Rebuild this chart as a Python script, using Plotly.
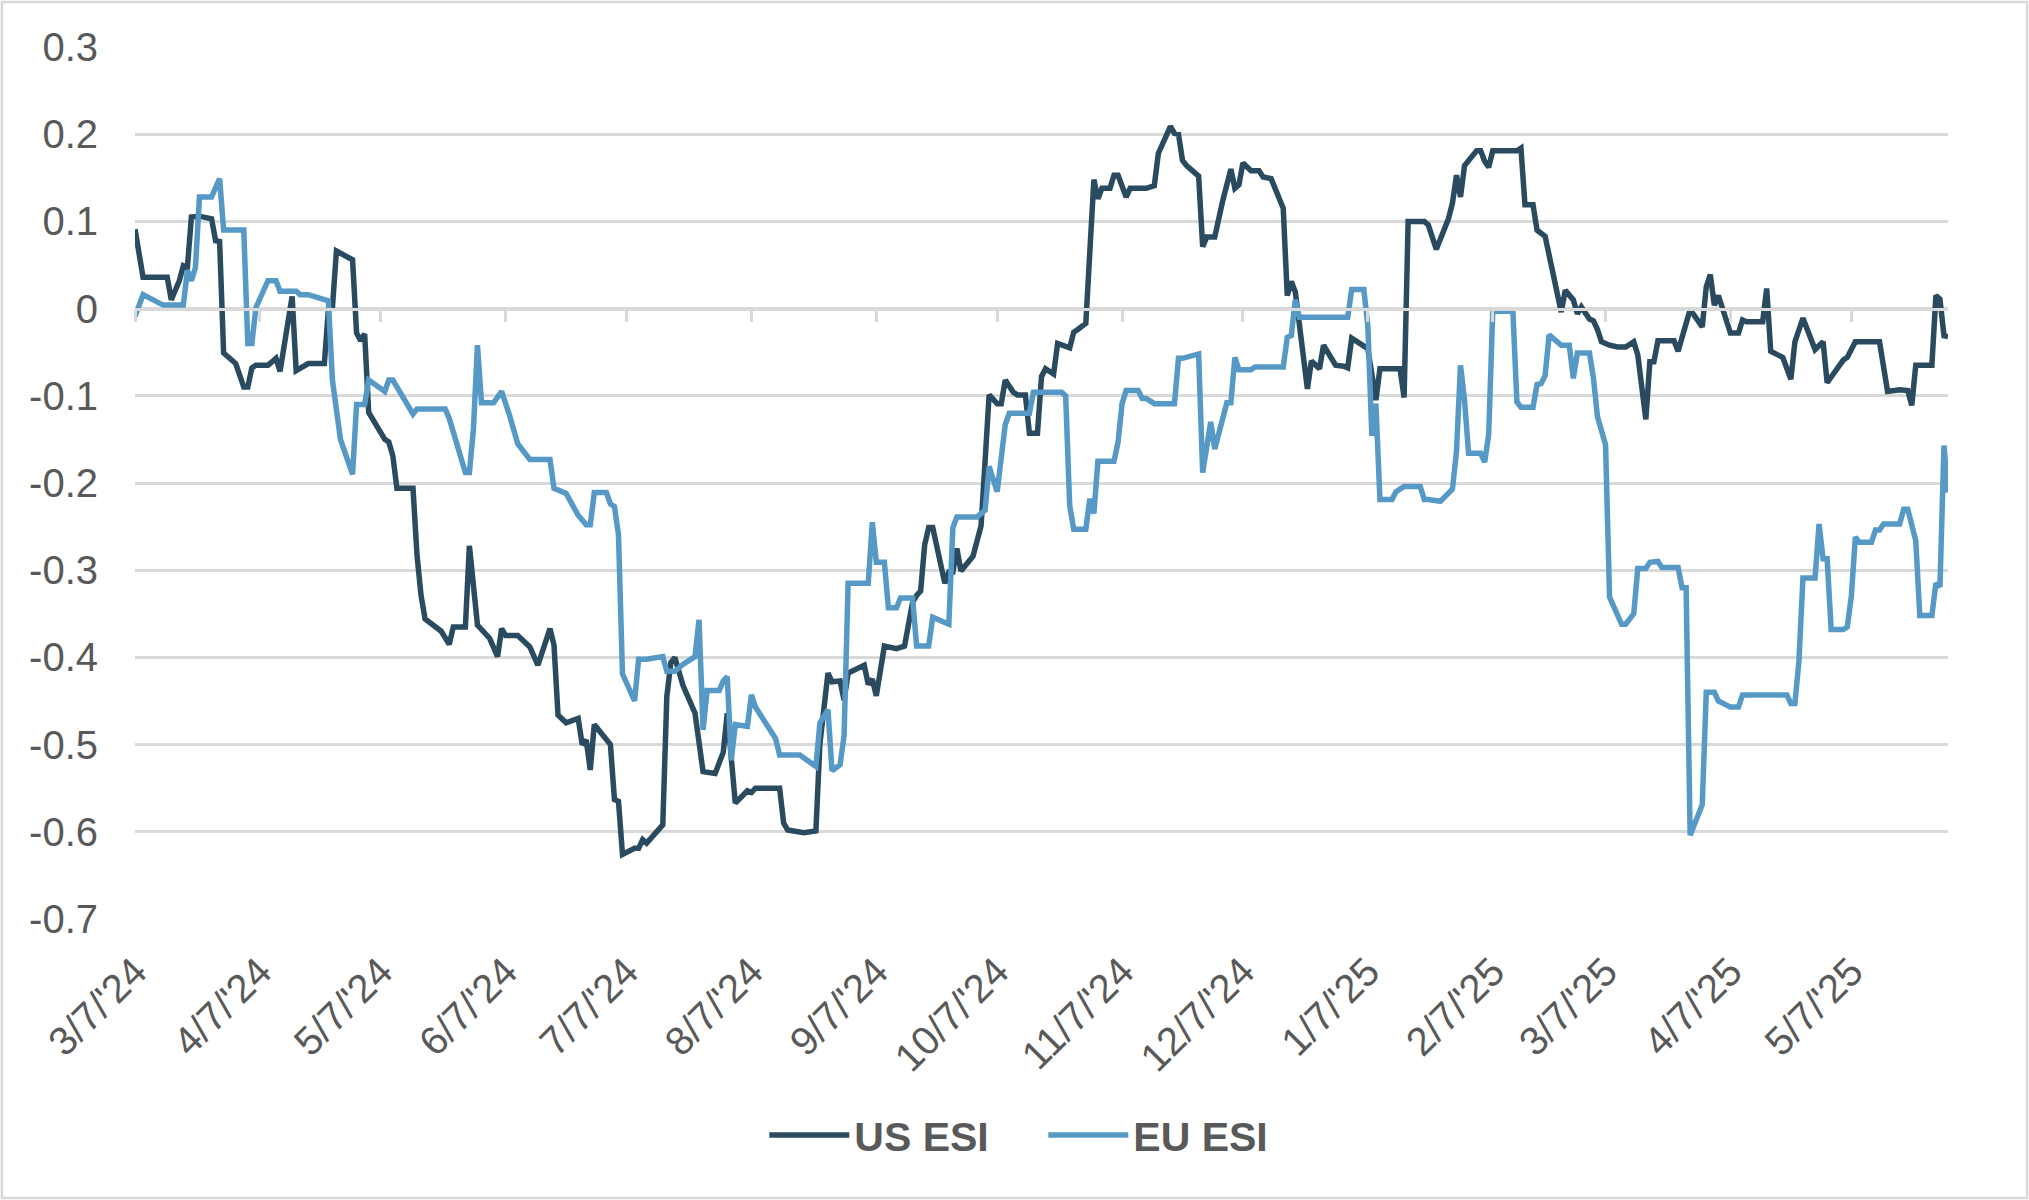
import pandas as pd
import plotly.graph_objects as go

# --- DATA ---
# days counted from 3/7/'24, values are the index level
START = pd.Timestamp("2024-03-07")

us_day = [0, 2, 8, 9, 11, 12, 13, 14, 16, 19,
          20, 21, 22, 25, 27, 28, 29, 30, 33, 35,
          36, 39, 40, 43, 47, 48, 49, 50, 54, 55,
          56, 57, 58, 62, 63, 64, 65, 69, 70, 71,
          72, 76, 78, 79, 82, 83, 85, 88, 90, 91,
          92, 95, 98, 100, 103, 104, 105, 107, 110, 111,
          112, 113, 114, 118, 119, 120, 121, 124, 125, 126,
          127, 131, 132, 133, 134, 136, 139, 141, 144, 146,
          147, 149, 152, 153, 154, 160, 161, 162, 166, 169,
          170, 171, 172, 173, 175, 176, 177, 181, 182, 183,
          184, 186, 189, 191, 193, 194, 195, 196, 197, 198,
          201, 202, 203, 204, 205, 208, 210, 211, 212, 214,
          215, 216, 218, 219, 221, 222, 224, 225, 226, 228,
          229, 232, 233, 234, 236, 238, 239, 240, 242, 243,
          244, 246, 247, 251, 253, 254, 256, 257, 258, 259,
          260, 261, 264, 265, 266, 268, 270, 272, 273, 274,
          275, 277, 279, 280, 282, 284, 285, 286, 287, 288,
          291, 292, 294, 295, 298, 300, 301, 302, 306, 308,
          309, 314, 315, 316, 320, 321, 323, 326, 327, 328,
          329, 330, 333, 334, 335, 336, 337, 343, 344, 345,
          347, 348, 350, 354, 355, 357, 358, 359, 361, 362,
          363, 364, 366, 368, 370, 372, 373, 375, 376, 377,
          378, 382, 383, 386, 389, 390, 391, 392, 393, 396,
          398, 399, 400, 404, 405, 406, 409, 411, 412, 414,
          417, 419, 420, 424, 425, 427, 433, 435, 438, 440,
          441, 442, 446, 447, 448, 449, 450]
us_esi = [0.091, 0.036, 0.036, 0.010, 0.032, 0.049, 0.047, 0.105, 0.106, 0.103,
          0.078, 0.077, -0.051, -0.063, -0.090, -0.090, -0.068, -0.065, -0.065, -0.057,
          -0.072, 0.014, -0.071, -0.063, -0.063, -0.001, 0.001, 0.066, 0.056, -0.028,
          -0.037, -0.029, -0.119, -0.150, -0.153, -0.169, -0.206, -0.206, -0.283, -0.329,
          -0.356, -0.370, -0.385, -0.365, -0.365, -0.272, -0.363, -0.378, -0.399, -0.367,
          -0.375, -0.375, -0.388, -0.409, -0.367, -0.386, -0.466, -0.475, -0.470, -0.500,
          -0.495, -0.529, -0.477, -0.500, -0.563, -0.565, -0.626, -0.619, -0.619, -0.609,
          -0.613, -0.592, -0.445, -0.406, -0.400, -0.432, -0.464, -0.531, -0.533, -0.509,
          -0.464, -0.567, -0.553, -0.555, -0.550, -0.550, -0.590, -0.598, -0.601, -0.599,
          -0.499, -0.464, -0.418, -0.428, -0.427, -0.449, -0.418, -0.409, -0.431, -0.425,
          -0.444, -0.387, -0.390, -0.387, -0.337, -0.329, -0.324, -0.271, -0.251, -0.251,
          -0.315, -0.302, -0.302, -0.275, -0.301, -0.284, -0.249, -0.175, -0.099, -0.109,
          -0.109, -0.082, -0.096, -0.099, -0.099, -0.143, -0.143, -0.078, -0.069, -0.075,
          -0.040, -0.045, -0.027, -0.024, -0.017, 0.148, 0.126, 0.138, 0.138, 0.153,
          0.153, 0.128, 0.138, 0.138, 0.141, 0.178, 0.197, 0.209, 0.201, 0.200,
          0.170, 0.164, 0.152, 0.071, 0.082, 0.082, 0.124, 0.160, 0.138, 0.142,
          0.167, 0.158, 0.158, 0.151, 0.149, 0.124, 0.115, 0.015, 0.031, 0.019,
          -0.092, -0.060, -0.069, -0.042, -0.065, -0.066, -0.068, -0.034, -0.046, -0.105,
          -0.069, -0.069, -0.102, 0.100, 0.100, 0.096, 0.068, 0.103, 0.121, 0.153,
          0.128, 0.164, 0.181, 0.181, 0.169, 0.162, 0.181, 0.181, 0.184, 0.119,
          0.119, 0.090, 0.083, -0.004, 0.021, 0.010, -0.006, 0.002, -0.012, -0.014,
          -0.024, -0.038, -0.042, -0.044, -0.044, -0.038, -0.053, -0.127, -0.061, -0.061,
          -0.037, -0.037, -0.049, -0.001, -0.021, 0.025, 0.039, 0.004, 0.015, -0.028,
          -0.028, -0.013, -0.015, -0.015, 0.023, -0.049, -0.056, -0.081, -0.038, -0.011,
          -0.047, -0.038, -0.085, -0.059, -0.056, -0.038, -0.038, -0.095, -0.093, -0.094,
          -0.111, -0.065, -0.065, 0.015, 0.011, -0.031, -0.032]

eu_day = [0, 2, 7, 12, 13, 14, 15, 16, 19, 21,
          22, 27, 28, 29, 30, 33, 35, 36, 40, 41,
          43, 47, 48, 49, 51, 54, 55, 57, 58, 62,
          63, 64, 66, 69, 70, 77, 78, 82, 83, 84,
          85, 86, 89, 91, 93, 95, 98, 103, 104, 106,
          107, 110, 111, 112, 113, 114, 117, 118, 119, 120,
          121, 124, 125, 127, 131, 132, 134, 136, 139, 140,
          141, 142, 145, 146, 147, 148, 149, 152, 153, 154,
          159, 160, 165, 169, 170, 172, 173, 175, 176, 177,
          182, 183, 184, 186, 187, 189, 190, 193, 194, 197,
          198, 202, 203, 204, 209, 211, 212, 214, 216, 217,
          222, 223, 230, 231, 232, 233, 236, 237, 238, 239,
          243, 244, 245, 246, 249, 250, 251, 253, 258, 259,
          260, 264, 265, 267, 268, 271, 272, 273, 274, 277,
          278, 285, 286, 287, 288, 289, 301, 302, 305, 306,
          307, 308, 309, 312, 313, 315, 319, 320, 321, 323,
          324, 327, 328, 329, 330, 331, 334, 335, 336, 337,
          342, 343, 344, 347, 348, 349, 350, 351, 354, 356,
          357, 358, 361, 362, 363, 365, 366, 369, 370, 372,
          373, 375, 376, 378, 379, 383, 384, 385, 386, 389,
          390, 392, 393, 396, 398, 399, 410, 411, 412, 413,
          414, 417, 418, 419, 420, 421, 424, 425, 426, 427,
          428, 431, 432, 433, 434, 438, 439, 440, 442, 443,
          446, 447, 448, 449, 450]
eu_esi = [-0.009, 0.016, 0.004, 0.004, 0.044, 0.032, 0.047, 0.128, 0.128, 0.149,
          0.090, 0.090, -0.040, -0.040, 0.001, 0.032, 0.032, 0.020, 0.020, 0.016,
          0.016, 0.010, 0.009, -0.082, -0.150, -0.190, -0.110, -0.110, -0.082, -0.095,
          -0.082, -0.082, -0.098, -0.121, -0.115, -0.115, -0.126, -0.188, -0.188, -0.138,
          -0.042, -0.108, -0.108, -0.095, -0.123, -0.155, -0.173, -0.173, -0.206, -0.211,
          -0.212, -0.237, -0.242, -0.248, -0.248, -0.211, -0.211, -0.224, -0.227, -0.259,
          -0.419, -0.450, -0.402, -0.402, -0.399, -0.416, -0.416, -0.408, -0.399, -0.357,
          -0.483, -0.438, -0.438, -0.427, -0.422, -0.518, -0.477, -0.479, -0.443, -0.457,
          -0.493, -0.512, -0.512, -0.525, -0.475, -0.460, -0.530, -0.523, -0.490, -0.315,
          -0.315, -0.245, -0.291, -0.291, -0.343, -0.343, -0.332, -0.332, -0.387, -0.387,
          -0.354, -0.362, -0.251, -0.239, -0.239, -0.231, -0.181, -0.210, -0.133, -0.120,
          -0.120, -0.096, -0.096, -0.100, -0.226, -0.253, -0.253, -0.218, -0.235, -0.175,
          -0.175, -0.153, -0.109, -0.094, -0.094, -0.103, -0.103, -0.109, -0.109, -0.057,
          -0.057, -0.052, -0.188, -0.130, -0.161, -0.108, -0.108, -0.056, -0.070, -0.070,
          -0.067, -0.067, -0.033, -0.031, 0.010, -0.010, -0.010, 0.022, 0.022, -0.020,
          -0.146, -0.109, -0.219, -0.219, -0.210, -0.204, -0.204, -0.219, -0.219, -0.221,
          -0.221, -0.207, -0.164, -0.065, -0.105, -0.166, -0.166, -0.176, -0.144, -0.003,
          -0.003, -0.107, -0.113, -0.113, -0.087, -0.086, -0.077, -0.030, -0.042, -0.042,
          -0.080, -0.051, -0.051, -0.080, -0.124, -0.156, -0.331, -0.362, -0.362, -0.350,
          -0.298, -0.298, -0.291, -0.290, -0.297, -0.297, -0.320, -0.320, -0.604, -0.569,
          -0.440, -0.440, -0.450, -0.457, -0.457, -0.443, -0.443, -0.453, -0.453, -0.404,
          -0.309, -0.309, -0.247, -0.287, -0.287, -0.368, -0.368, -0.365, -0.330, -0.262,
          -0.268, -0.268, -0.254, -0.254, -0.247, -0.247, -0.230, -0.230, -0.266, -0.352,
          -0.352, -0.315, -0.319, -0.157, -0.211]

assert len(us_day) == len(us_esi) and len(eu_day) == len(eu_esi)

tick_dates = ["2024-03-07", "2024-04-07", "2024-05-07", "2024-06-07", "2024-07-07",
              "2024-08-07", "2024-09-07", "2024-10-07", "2024-11-07", "2024-12-07",
              "2025-01-07", "2025-02-07", "2025-03-07", "2025-04-07", "2025-05-07"]
tick_labels = ["3/7/'24", "4/7/'24", "5/7/'24", "6/7/'24", "7/7/'24",
               "8/7/'24", "9/7/'24", "10/7/'24", "11/7/'24", "12/7/'24",
               "1/7/'25", "2/7/'25", "3/7/'25", "4/7/'25", "5/7/'25"]
y_ticks = [0.3, 0.2, 0.1, 0, -0.1, -0.2, -0.3, -0.4, -0.5, -0.6, -0.7]
y_labels = ["0.3", "0.2", "0.1", "0", "-0.1", "-0.2", "-0.3", "-0.4", "-0.5", "-0.6", "-0.7"]

US_COLOR = "#2A4B5F"
EU_COLOR = "#5699C6"
GRID = "#D9D9D9"
TEXT = "#595959"
FONT = "Liberation Sans, Arial, sans-serif"

us_dates = START + pd.to_timedelta(us_day, unit="D")
eu_dates = START + pd.to_timedelta(eu_day, unit="D")
end_date = START + pd.Timedelta(days=max(us_day))

fig = go.Figure()
fig.add_trace(go.Scatter(x=us_dates, y=us_esi, name="US ESI", mode="lines",
                         line=dict(color=US_COLOR, width=5.5)))
fig.add_trace(go.Scatter(x=eu_dates, y=eu_esi, name="EU ESI", mode="lines",
                         line=dict(color=EU_COLOR, width=5.5)))
# dummy trace so the date axis drawn at y=0 shows up
fig.add_trace(go.Scatter(x=[us_dates[0]], y=[0], xaxis="x2", mode="lines",
                         line=dict(width=0), showlegend=False, hoverinfo="skip"))

fig.update_layout(
    width=2029, height=1200,
    paper_bgcolor="white", plot_bgcolor="white",
    margin=dict(l=135, r=81, t=47, b=281),
    font=dict(family=FONT, color=TEXT, size=40),
    xaxis=dict(type="date", range=[START, end_date], showgrid=False, zeroline=False,
               showline=False, tickvals=tick_dates, ticktext=tick_labels,
               tickangle=-45, ticks="", ticklabelstandoff=20,
               tickfont=dict(size=40, color=TEXT)),
    xaxis2=dict(type="date", overlaying="x", matches="x", anchor="free", position=0.7,
                showgrid=False, zeroline=False, showline=True, linecolor=GRID, linewidth=2.5,
                tickvals=tick_dates, showticklabels=False, ticks="outside", ticklen=12,
                tickwidth=2.5, tickcolor=GRID),
    yaxis=dict(range=[-0.7, 0.3], tickvals=y_ticks, ticktext=y_labels,
               showgrid=True, gridcolor=GRID, gridwidth=2.5, zeroline=False,
               showline=False, ticks="", ticklabelstandoff=36,
               tickfont=dict(size=40, color=TEXT)),
    legend=dict(orientation="h", x=0.501, xanchor="center", y=-0.248, yanchor="middle",
                font=dict(size=41, color=TEXT, weight="bold"), itemwidth=80,
                entrywidth=184, entrywidthmode="pixels",
                bgcolor="rgba(0,0,0,0)"),
    shapes=[dict(type="rect", xref="paper", yref="paper",
                 x0=-0.0734, x1=1.0436, y0=-0.32, y1=1.0516,
                 line=dict(color=GRID, width=2.5), fillcolor="rgba(0,0,0,0)", layer="below")],
)

# page body has a default 8px margin, drop it so the chart sits at the window corner
fig.write_html("out.html", config={"displayModeBar": False},
               post_script="document.body.style.margin = '0';")
